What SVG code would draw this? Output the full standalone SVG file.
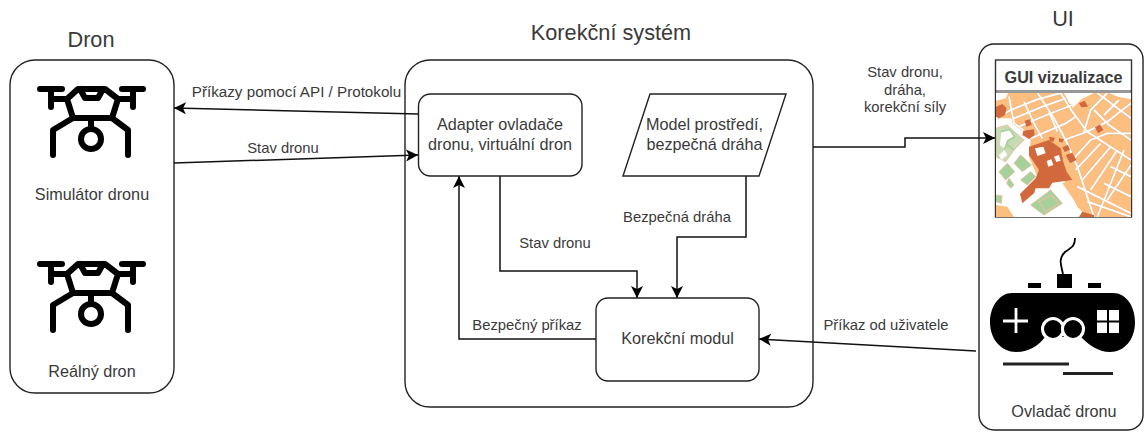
<svg xmlns="http://www.w3.org/2000/svg" width="1145" height="432" viewBox="0 0 1145 432">
<style>
text{font-family:"Liberation Sans",Arial,sans-serif;fill:#3a3a3a;text-anchor:middle}
.t{font-size:21.700px}.m{font-size:16.200px}.s{font-size:14.800px}
.box{fill:#fff;stroke:#222;stroke-width:1.400}
.c{fill:none;stroke:#111;stroke-width:1.500;marker-end:url(#a)}
.ic{fill:none;stroke:#000;stroke-width:6;stroke-linecap:round;stroke-linejoin:round}
.dk{fill:#d2693c}.gr{fill:#a5d19b;stroke:#e3c0a0;stroke-width:3}
.wh{fill:#fff}
</style>
<defs>
<marker id="a" markerUnits="userSpaceOnUse" markerWidth="14" markerHeight="14" refX="12" refY="6" orient="auto"><path d="M0 0L12 6L0 12L3 6Z" fill="#000"/></marker>
<g id="drone"><path class="ic" d="M40 89H62M122 89H143M51 89V107M133 89V107M51 99H67L78 89H105L118 99H133M67 99L73 118H112L118 99M80 89L85 98H98L103 89M73 118L53 130V155M112 118L128 130V155M91 118V129"/><circle class="ic" cx="91" cy="139" r="10"/></g>
<clipPath id="mc"><rect x="6" y="9" width="405" height="372"/></clipPath>
<filter id="soft" x="-5%" y="-5%" width="110%" height="110%"><feGaussianBlur stdDeviation="0.400"/></filter>
<g id="streets">
<path d="M131 9L180 85L215 150L250 230L300 381"/>
<path d="M200 9L235 65L280 125"/>
<path d="M45 20L60 100L95 125"/>
<path d="M6 85L50 60L130 28L200 9"/>
<path d="M60 85L140 52L215 25"/>
<path d="M75 110L165 72L235 45"/>
<path d="M110 145L215 100L245 80"/>
<path d="M90 35L120 100L145 145"/>
<path d="M165 65L190 125"/>
<path d="M210 150L280 125L340 95L411 40"/>
<path d="M340 9L290 60L270 125"/>
<path d="M300 60L345 105L411 150"/>
<path d="M310 9L411 85"/>
<path d="M375 30L330 75"/>
<path d="M280 125L411 210"/>
<path d="M240 205L290 150L340 130L411 130"/>
<path d="M245 240L320 160"/>
<path d="M265 270L350 170"/>
<path d="M290 300L370 180"/>
<path d="M340 330L411 225"/>
<path d="M310 381L390 180"/>
<path d="M250 290L411 370"/>
<path d="M280 335L411 381"/>
<path d="M330 280L411 320"/>
<path d="M350 230L411 260"/>
</g>
</defs>

<g id="dron-system">
<rect class="box" x="10" y="60" width="164" height="333" rx="25"/>
<text class="t" x="91" y="47">Dron</text>
<use href="#drone"/>
<text class="m" x="92" y="200">Simulátor dronu</text>
<use href="#drone" y="175"/>
<text class="m" x="92" y="377">Reálný dron</text>
</g>

<g id="korekcni-system">
<rect class="box" x="405" y="60" width="408" height="347" rx="25"/>
<text class="t" x="611" y="40">Korekční systém</text>
</g>

<g id="ui-system">
<rect class="box" x="979" y="44" width="164" height="386" rx="15"/>
<text class="t" x="1063" y="26">UI</text>
</g>

<g id="connectors">
<path class="c" d="M418 114L174 108"/>
<path class="c" d="M174 163L418 155"/>
<path class="c" d="M500 176V271H637V298"/>
<path class="c" d="M746 176V237H677V298"/>
<path class="c" d="M596 339H459V176"/>
<path class="c" d="M976 351L759 339"/>
<path class="c" d="M813 147H905V138H995"/>
<text class="s" x="296.500" y="97" style="font-size:15.200px">Příkazy pomocí API / Protokolu</text>
<text class="s" x="283" y="153">Stav dronu</text>
<text class="s" x="555" y="248">Stav dronu</text>
<text class="s" x="677" y="222">Bezpečná dráha</text>
<text class="s" x="527" y="330">Bezpečný příkaz</text>
<text class="s" x="905" y="77">Stav dronu,</text>
<text class="s" x="905" y="95">dráha,</text>
<text class="s" x="905" y="112">korekční síly</text>
<text class="s" x="886" y="330">Příkaz od uživatele</text>
</g>

<g id="adapter">
<rect class="box" x="418.500" y="94" width="163.500" height="82" rx="12"/>
<text class="m" x="500" y="130">Adapter ovladače</text>
<text class="m" x="500" y="150">dronu, virtuální dron</text>
</g>
<g id="model">
<path class="box" d="M650 94H786L759 176H623Z"/>
<text class="m" x="704.500" y="130">Model prostředí,</text>
<text class="m" x="704.500" y="150">bezpečná dráha</text>
</g>
<g id="korekcni-modul">
<rect class="box" x="596" y="298" width="163" height="83" rx="12"/>
<text class="m" x="677.500" y="344">Korekční modul</text>
</g>

<g id="gui">
<rect x="995.500" y="60" width="136" height="157" fill="#fff" stroke="#333" stroke-width="1.400"/>
<path d="M996 91H1131M996 93H1131" stroke="#333" stroke-width="1"/>
<text x="1063.500" y="83" style="font-size:16.200px;font-weight:bold">GUI vizualizace</text>
<g transform="translate(994,90) scale(0.3333)" clip-path="url(#mc)">
<g filter="url(#soft)">
<rect x="6" y="9" width="405" height="372" fill="#fcbf80"/>
<path class="wh" d="M6 9H42L36 25L6 32ZM210 9H300L262 28L235 55ZM345 9H411V28L372 20ZM6 85H50L85 120L110 150L105 200L130 260L100 300L100 381H6Z"/>
<path class="wh" d="M90 290L210 270L250 350L280 381H90Z"/>
<use href="#streets" fill="none" stroke="#e8b48a" stroke-width="8"/>
<use href="#streets" fill="none" stroke="#fff" stroke-width="5.500"/>
<path class="dk" d="M6 50L25 42L38 55L33 75L15 85L6 80ZM88 122L120 118L122 135L105 147L85 135ZM92 92L108 88L113 105L97 110ZM165 140L183 143L178 155L168 153ZM195 145L210 148L205 158L195 155ZM205 172L222 165L228 180L212 186ZM215 195L235 188L247 210L228 220ZM255 40L272 32L282 50L262 52ZM303 112L318 103L328 120L312 130Z"/>
<path class="dk" d="M105 170L165 150L200 175L208 215L218 245L235 270L175 278L165 295L125 295L120 310L85 340L78 312L125 265L135 240L105 195Z"/>
<path class="wh" d="M123 175L148 170L155 190L130 198ZM158 213L172 208L178 225L163 230ZM180 200L195 195L200 212L187 216Z"/>
<path d="M6 115L40 105L55 120L90 150L60 180L35 215L6 200Z" fill="#c9dbb4" stroke="#e3c0a0" stroke-width="3"/>
<path class="wh" d="M22 125L45 120L60 140L40 150L30 175L18 165ZM15 195L32 180L40 195L22 210Z"/>
<path d="M20 125L48 118L62 140L42 152L32 178M40 165L60 180" fill="none" stroke="#a5d19b" stroke-width="5"/>
<path class="gr" d="M80 195L112 225L85 245L60 220ZM40 220L62 245L35 270L15 245ZM110 245L125 260L100 285L80 270ZM45 265L60 285L50 295L38 280ZM6 315L24 318L22 340L6 335ZM130 330L170 300L205 340L150 375L110 345Z"/>
<path d="M135 335L170 315L195 340L155 365Z" fill="none" stroke="#e3c0a0" stroke-width="4"/>
<path d="M205 280L225 272L275 350L262 362Z" fill="#fcbf80"/>
<path d="M6 345L40 350L60 381H6Z" fill="#fcbf80"/>
<path class="dk" d="M255 381L265 365L300 375V381Z"/>
</g>
</g>
</g>

<g id="ovladac">
<path d="M1012 293H1113C1126 293 1135 306 1135 322C1135 340 1124 352 1110 352C1098 352 1089 345 1081 337H1045C1039 345 1030 352 1016 352C1002 352 990 340 990 322C990 306 1000 293 1012 293Z" fill="#000"/>
<rect x="1057" y="274" width="15" height="14" fill="#000"/>
<rect x="1028" y="283" width="13" height="5" fill="#000"/>
<rect x="1088" y="283" width="13" height="5" fill="#000"/>
<path d="M1063 274C1060 262 1059 258 1065 252C1073 247 1075 245 1075 238" fill="none" stroke="#000" stroke-width="1.800"/>
<path d="M1003 321H1028M1016 308V333" stroke="#fff" stroke-width="2.800"/>
<circle cx="1053" cy="329" r="10.500" fill="#000" stroke="#fff" stroke-width="3"/>
<circle cx="1073" cy="329" r="10.500" fill="#000" stroke="#fff" stroke-width="3"/>
<path d="M1097 310h10v10.500h-10zM1109 310h10v10.500h-10zM1097 322.500h10v10.500h-10zM1109 322.500h10v10.500h-10z" fill="#fff"/>
<path d="M1003 364H1069M1063 373.500H1113" stroke="#222" stroke-width="3"/>
<text class="m" x="1064" y="417">Ovladač dronu</text>
</g>
</svg>
